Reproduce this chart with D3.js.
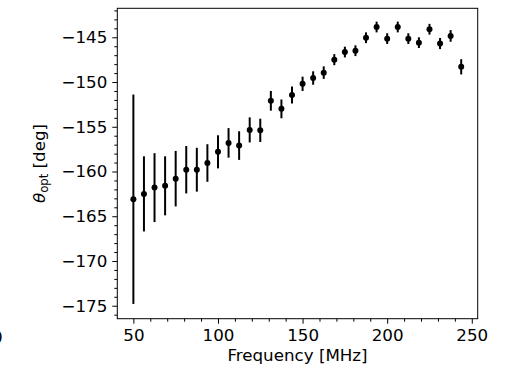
<!DOCTYPE html>
<html>
<head>
<meta charset="utf-8">
<script src="https://cdn.jsdelivr.net/npm/d3@7.9.0/dist/d3.min.js"></script>
<style>
  html, body { margin: 0; padding: 0; background: #fff; }
  svg { display: block; font-family: "DejaVu Sans", sans-serif; }
</style>
</head>
<body>
<div id="viz"></div>
<script>
// Frequency channels [MHz]
const freqs = [
  50, 56.25, 62.5, 68.75, 75, 81.25, 87.5, 93.75,
  100, 106.25, 112.5, 118.75, 125, 131.25, 137.5, 143.75,
  150, 156.25, 162.5, 168.75, 175, 181.25, 187.5, 193.75,
  200, 206.25, 212.5, 218.75, 225, 231.25, 237.5, 243.75
];
// Optimal angle [deg]
const theta = [
  -163.1, -162.5, -161.8, -161.6, -160.8, -159.8, -159.8, -159.05,
  -157.8, -156.8, -157.1, -155.35, -155.4, -152.1, -153.0, -151.45,
  -150.2, -149.55, -148.95, -147.5, -146.65, -146.5, -145.05, -143.85,
  -145.15, -143.85, -145.15, -145.6, -144.1, -145.7, -144.85, -148.3
];
// 1-sigma uncertainty [deg]
const thetaErr = [
  11.7, 4.2, 3.85, 3.3, 3.1, 2.65, 2.45, 2.1,
  1.85, 1.65, 1.6, 1.4, 1.3, 1.1, 1.05, 0.95,
  0.8, 0.75, 0.7, 0.62, 0.6, 0.6, 0.6, 0.6,
  0.6, 0.6, 0.6, 0.6, 0.6, 0.62, 0.65, 0.85
];
const xTicks = [50, 100, 150, 200, 250];
const yTicks = [-175, -170, -165, -160, -155, -150, -145];

const width = 506;
const height = 370;
const margin = { left: 117.3, right: 506 - 477.7, top: 8.3, bottom: 370 - 318.7 };
const fs = 16.7;

const svg = d3.select("#viz").append("svg")
  .attr("width", width)
  .attr("height", height);

const x = d3.scaleLinear().domain([40.5, 253.5]).range([margin.left, width - margin.right]);
const y = d3.scaleLinear().domain([-176.45, -141.76]).range([height - margin.bottom, margin.top]);

const fmt = d => (d < 0 ? "\u2212" + Math.abs(d) : String(d));

// minor ticks
const xMinor = d3.range(40, 254, 10).filter(v => !xTicks.includes(v) && v >= 40.5);
const yMinor = d3.range(-176, -141, 1).filter(v => !yTicks.includes(v));

svg.append("g")
  .attr("transform", `translate(0,${height - margin.bottom})`)
  .call(d3.axisBottom(x).tickValues(xMinor).tickSize(3).tickFormat(""))
  .call(g => g.select(".domain").remove());
svg.append("g")
  .attr("transform", `translate(${margin.left},0)`)
  .call(d3.axisLeft(y).tickValues(yMinor).tickSize(3).tickFormat(""))
  .call(g => g.select(".domain").remove());

const xAxis = svg.append("g")
  .attr("transform", `translate(0,${height - margin.bottom})`)
  .call(d3.axisBottom(x).tickValues(xTicks).tickSize(5).tickPadding(5).tickFormat(fmt))
  .call(g => g.select(".domain").remove());
xAxis.selectAll("text").attr("font-size", fs).attr("font-family", "DejaVu Sans").attr("fill", "#000");

const yAxis = svg.append("g")
  .attr("transform", `translate(${margin.left},0)`)
  .call(d3.axisLeft(y).tickValues(yTicks).tickSize(5).tickPadding(5).tickFormat(fmt))
  .call(g => g.select(".domain").remove());
yAxis.selectAll("text").attr("font-size", fs).attr("font-family", "DejaVu Sans").attr("fill", "#000");

svg.selectAll(".tick line").attr("stroke", "#000").attr("stroke-width", 1);

// frame
svg.append("rect")
  .attr("x", margin.left)
  .attr("y", margin.top)
  .attr("width", width - margin.left - margin.right)
  .attr("height", height - margin.top - margin.bottom)
  .attr("fill", "none")
  .attr("stroke", "#000")
  .attr("stroke-width", 1);

const pts = freqs.map((f, i) => ({ f, v: theta[i], e: thetaErr[i] }));

// error bars
svg.append("g").selectAll("line")
  .data(pts)
  .join("line")
  .attr("x1", d => x(d.f))
  .attr("x2", d => x(d.f))
  .attr("y1", d => y(d.v - d.e))
  .attr("y2", d => y(d.v + d.e))
  .attr("stroke", "#000")
  .attr("stroke-width", 2);

// markers
svg.append("g").selectAll("circle")
  .data(pts)
  .join("circle")
  .attr("cx", d => x(d.f))
  .attr("cy", d => y(d.v))
  .attr("r", 3)
  .attr("fill", "#000");

// axis labels
svg.append("text")
  .attr("x", (margin.left + width - margin.right) / 2)
  .attr("y", 361)
  .attr("text-anchor", "middle")
  .attr("font-size", fs)
  .text("Frequency [MHz]");

const yl = svg.append("text")
  .attr("transform", `translate(45,${(margin.top + height - margin.bottom) / 2}) rotate(-90)`)
  .attr("text-anchor", "middle")
  .attr("font-size", fs);
yl.append("tspan").attr("font-style", "italic").text("\u03b8");
yl.append("tspan").attr("font-size", fs * 0.7).attr("dy", 3).text("opt");
yl.append("tspan").attr("dy", -3).text(" [deg]");

// clipped glyph from a neighbouring panel at the left edge
svg.append("text")
  .attr("x", 2.5)
  .attr("y", 343)
  .attr("text-anchor", "end")
  .attr("font-size", fs)
  .text("0");
</script>
</body>
</html>
